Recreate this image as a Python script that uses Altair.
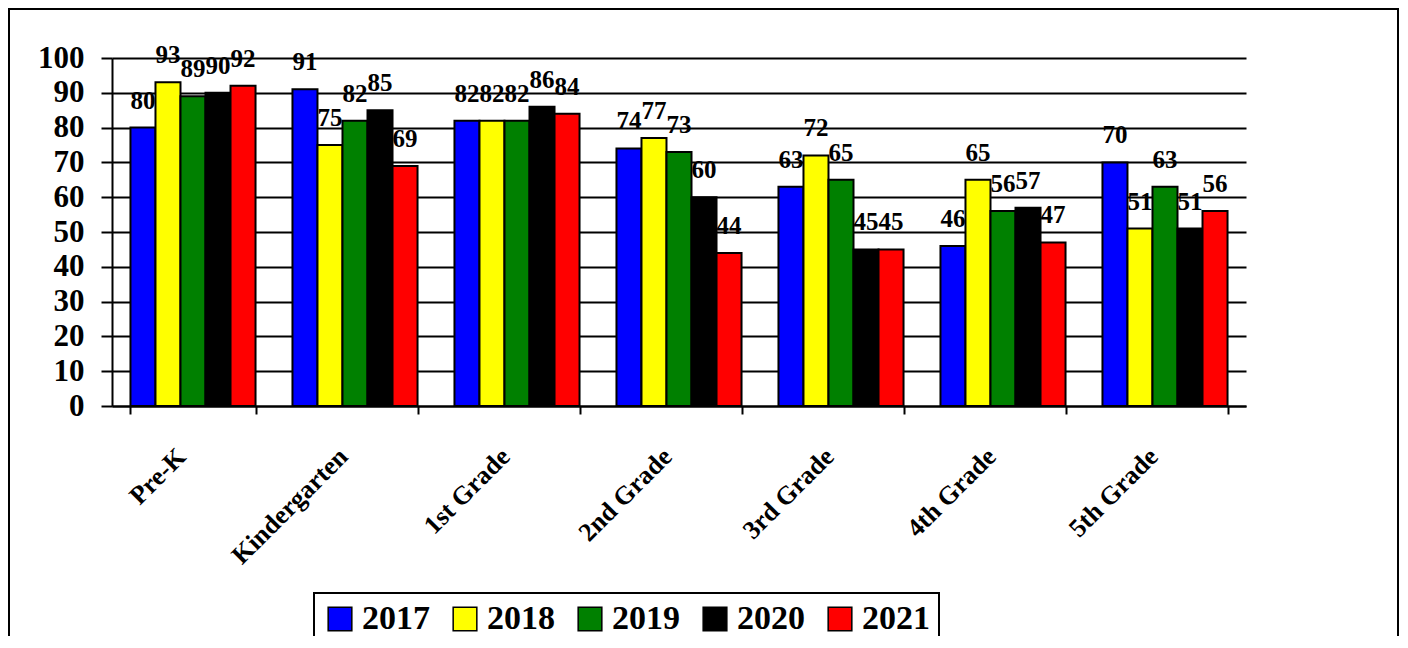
import altair as alt
import pandas as pd

categories = ["Pre-K", "Kindergarten", "1st Grade", "2nd Grade", "3rd Grade", "4th Grade", "5th Grade"]
years = ["2017", "2018", "2019", "2020", "2021"]
v2017 = [80, 91, 82, 74, 63, 46, 70]
v2018 = [93, 75, 82, 77, 72, 65, 51]
v2019 = [89, 82, 82, 73, 65, 56, 63]
v2020 = [90, 85, 86, 60, 45, 57, 51]
v2021 = [92, 69, 84, 44, 45, 47, 56]
colors = ["#0000FF", "#FFFF00", "#008000", "#000000", "#FF0000"]

series = [v2017, v2018, v2019, v2020, v2021]
rows = []
for yr, vals in zip(years, series):
    for cat, v in zip(categories, vals):
        rows.append({"grade": cat, "year": yr, "value": v})
df = pd.DataFrame(rows)

FONT = "Liberation Serif"

x_enc = alt.X(
    "grade:N",
    sort=categories,
    scale=alt.Scale(paddingInner=0.228, paddingOuter=0.114),
    axis=alt.Axis(
        title=None,
        labelAngle=-45,
        labelFont=FONT,
        labelFontWeight="bold",
        labelFontSize=26,
        labelColor="black",
        labelPadding=29,
        labelOffset=-21,
        labelOverlap=False,
        tickBand="extent",
        tickSize=8,
        tickWidth=2,
        tickColor="black",
        domainColor="black",
        domainWidth=2,
        grid=False,
    ),
)
xoff_enc = alt.XOffset("year:N", sort=years, scale=alt.Scale(paddingInner=0, paddingOuter=0))
y_enc = alt.Y(
    "value:Q",
    scale=alt.Scale(domain=[0, 100], nice=False),
    axis=alt.Axis(
        title=None,
        values=list(range(0, 101, 10)),
        grid=True,
        gridColor="black",
        gridWidth=2,
        gridOpacity=1,
        domainColor="black",
        domainWidth=2,
        tickColor="black",
        tickWidth=2,
        tickSize=11,
        labelFont=FONT,
        labelFontWeight="bold",
        labelFontSize=31,
        labelColor="black",
        labelPadding=17,
        labelOverlap=False,
        labelFlush=False,
    ),
)

bars = alt.Chart(df).mark_bar(stroke="black", strokeWidth=2).encode(
    x=x_enc,
    xOffset=xoff_enc,
    y=y_enc,
    color=alt.Color(
        "year:N",
        sort=years,
        scale=alt.Scale(domain=years, range=colors),
        legend=alt.Legend(
            title=None,
            orient="none",
            legendX=202,
            legendY=535,
            direction="horizontal",
            columns=5,
            columnPadding=18,
            symbolType="square",
            symbolSize=560,
            symbolStrokeColor="black",
            symbolStrokeWidth=1.5,
            symbolOpacity=1,
            labelFont=FONT,
            labelFontWeight="bold",
            labelFontSize=34,
            labelColor="black",
            labelOffset=5,
            padding=9,
            strokeColor="black",
        ),
    ),
)

labels = alt.Chart(df).mark_text(
    dy=-19, baseline="alphabetic", align="center",
    font=FONT, fontWeight="bold", fontSize=25, color="black",
).encode(
    x=x_enc,
    xOffset=xoff_enc,
    y=y_enc,
    text=alt.Text("value:Q"),
)

border = alt.Chart(pd.DataFrame({"k": [0]})).mark_rect(
    filled=False, stroke="black", strokeWidth=2
).encode(
    x=alt.value(-103), x2=alt.value(1286), y=alt.value(-49), y2=alt.value(700)
)

chart = alt.layer(border, bars, labels).properties(
    width=1134,
    height=348,
    autosize=alt.AutoSizeParams(type="none"),
    padding={"left": 104, "top": 50, "right": 154, "bottom": 230},
    background="white",
).configure_view(stroke=None).configure_legend(strokeWidth=2)

chart.save("out.html", embed_options={"renderer": "svg", "actions": False})
